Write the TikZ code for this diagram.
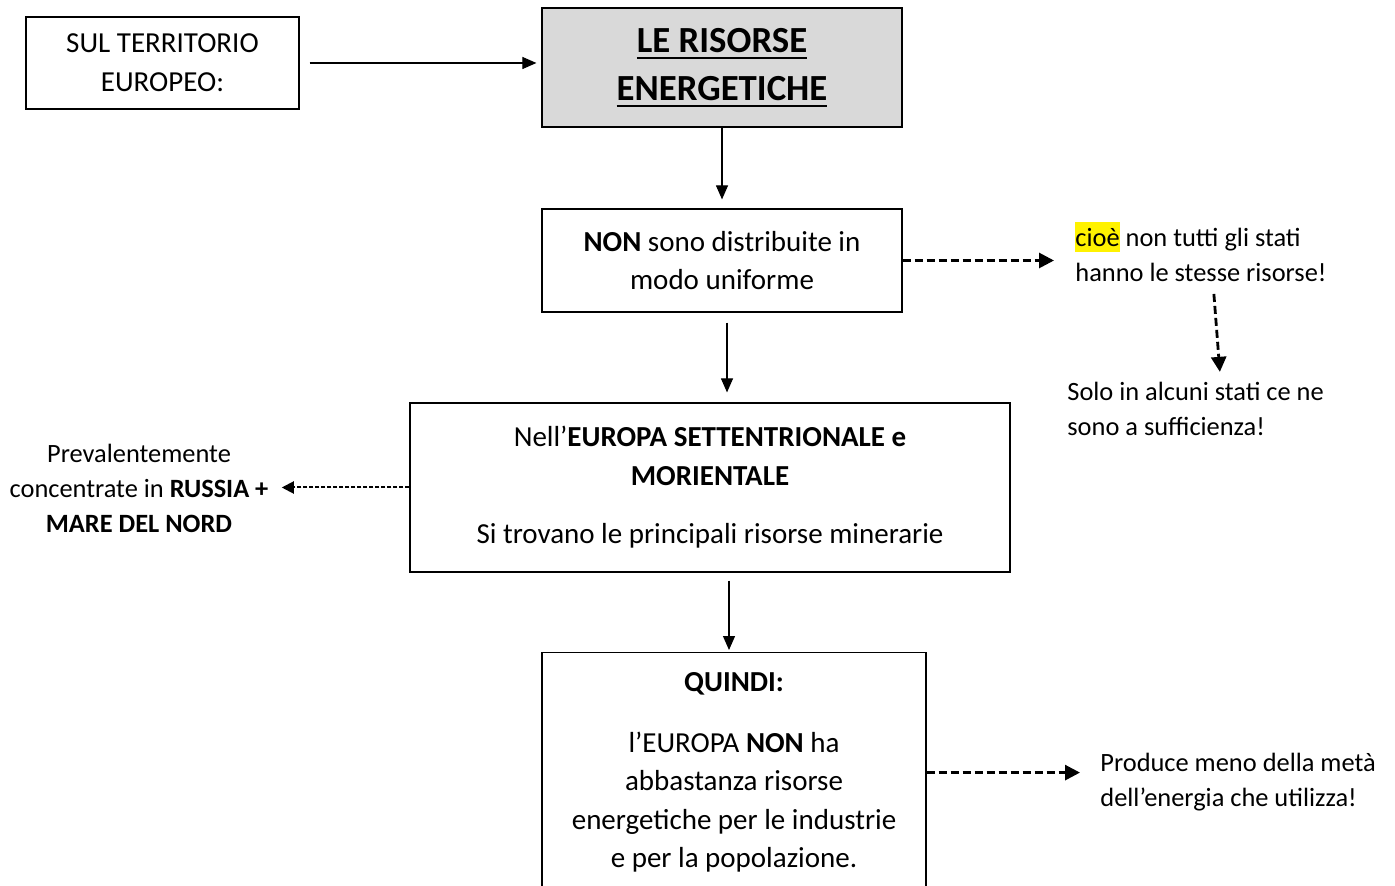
\documentclass[tikz,border=0pt]{standalone}
\usepackage{fontspec}
\setmainfont{Carlito}
\usepackage{tikz}
\usetikzlibrary{arrows.meta}

\newcommand{\evid}[1]{{\setlength{\fboxsep}{0pt}\colorbox{yellow}{\rule[-3pt]{0pt}{15pt}#1}}}
\newcommand{\sott}[1]{\vtop{\hbox{#1}\kern2pt\hrule height 1pt}}

\begin{document}
\begin{tikzpicture}
  [x=0.5pt,y=-0.5pt,
   box/.style={shape=rectangle,draw,line width=0.6pt,inner sep=0pt,align=center,
     font=\fontsize{14.5}{19.3}\selectfont},
   note/.style={inner sep=0pt,font=\fontsize{13.2}{17.5}\selectfont},
   arr/.style={line width=0.55pt,-{Triangle[length=7pt,width=6pt]}},
   dasharr/.style={line width=1.4pt,dash pattern=on 4pt off 2pt,-{Triangle[length=7.5pt,width=7.5pt]}},
   dotarr/.style={line width=1pt,dash pattern=on 2pt off 1pt,-{Triangle[length=6pt,width=6pt]}}]
\clip (0,0) rectangle (1395,886);

\node [box,minimum width=136.5pt,minimum height=46pt] (terr) at (162.5,63) {SUL TERRITORIO\\EUROPEO:};
\node [box,fill=black!15,minimum width=180pt,minimum height=59.5pt,
       font=\fontsize{18.4}{24}\selectfont\bfseries] (ris) at (722,67.5)
      {\sott{LE RISORSE}\\\sott{ENERGETICHE}};
\node [box,minimum width=180pt,minimum height=51.5pt] (dist) at (722,260.5)
      {\textbf{NON} sono distribuite in\\modo uniforme};
\node [box,minimum width=300pt,minimum height=84.5pt] (sett) at (710,487.5)
      {Nell'\textbf{EUROPA SETTENTRIONALE e}\\\textbf{MORIENTALE}\\[10pt]Si trovano le principali risorse minerarie};
\node [box,anchor=north,minimum width=192pt,minimum height=120pt] (quindi) at (734,652)
      {\textbf{QUINDI:}\\[11pt]l'EUROPA \textbf{NON} ha\\abbastanza risorse\\energetiche per le industrie\\e per la popolazione.};

\node [note,anchor=west,align=left] (cioe) at (1075,252) {\evid{cioè} non tutti gli stati\\ hanno le stesse risorse!};
\node [note,anchor=west,align=left] (solo) at (1067,409) {Solo in alcuni stati ce ne\\sono a sufficienza!};
\node [note,align=center] (prev) at (139,488) {Prevalentemente\\concentrate in \textbf{RUSSIA +}\\\textbf{MARE DEL NORD}};
\node [note,anchor=west,align=left] (prod) at (1100,782) {Produce meno della metà\\dell'energia che utilizza!};

\draw [arr,shorten <=5pt,shorten >=2.5pt] (terr.east) -- (terr.east -| ris.west);
\draw [arr,shorten >=4.5pt] (ris) -- (dist);
\draw [arr,shorten <=5pt,shorten >=5pt] ([xshift=2.5pt]dist.south) -- ([xshift=8.5pt]sett.north);
\draw [arr,shorten <=4pt,shorten >=1pt] ([xshift=9.5pt]sett.south) -- ([xshift=-2.5pt]quindi.north);

\draw [dasharr,shorten >=10.5pt] (dist.east) -- (dist.east -| cioe.west);
\draw [dasharr,shorten <=6pt,shorten >=5pt] ([xshift=6pt]cioe.south) -- ([xshift=12.5pt]solo.north);
\draw [dotarr,shorten >=6.5pt] (sett.west) -- (sett.west -| prev.east);
\draw [dasharr,shorten >=10pt] (quindi.east) -- (quindi.east -| prod.west);
\end{tikzpicture}
\end{document}
